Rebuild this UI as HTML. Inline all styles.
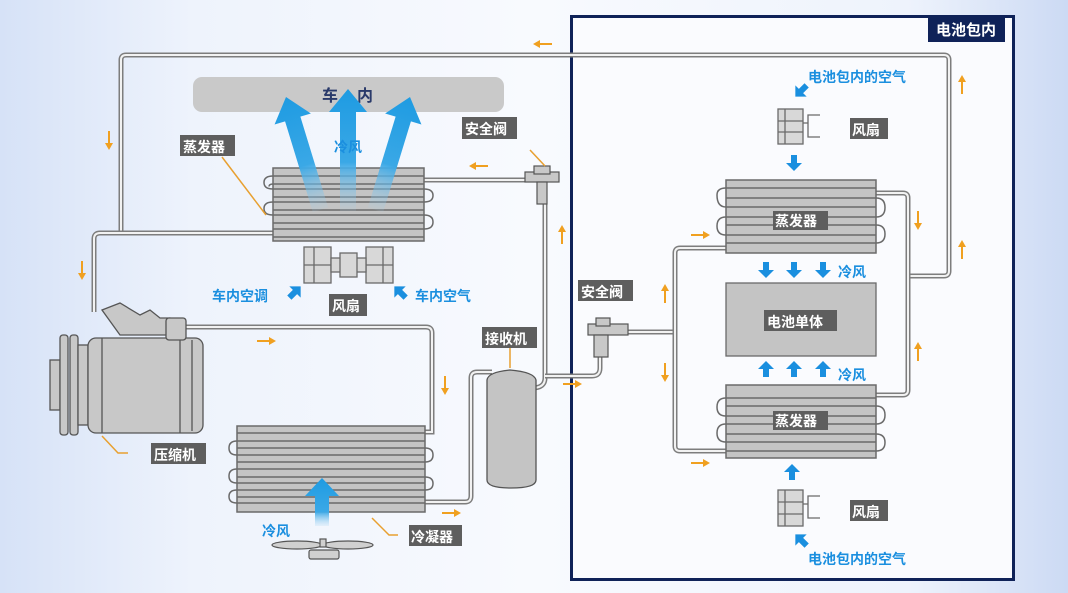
<!DOCTYPE html>
<html><head><meta charset="utf-8"><style>
html,body{margin:0;padding:0;}
body{width:1068px;height:593px;overflow:hidden;background:linear-gradient(90deg,#d6e2f7 0%,#eef3fc 18%,#f8fafe 50%,#eef3fc 85%,#ccdaf4 100%);}
svg{display:block;font-family:"Liberation Sans","Noto Sans CJK SC",sans-serif;}
.po{fill:none;stroke:#7d7d7d;stroke-width:5;}
.pi{fill:none;stroke:#f2f2f2;stroke-width:2;}
.lb{fill:#5e5e5e;}
.lt{fill:#fff;font-size:14px;font-weight:bold;}
.bt{fill:#1b8fdf;font-size:14px;font-weight:bold;}
.ld{fill:none;stroke:#e8a030;stroke-width:1.5;}
.plate{fill:#c4c4c4;stroke:#6a6a6a;stroke-width:1.5;}
.tube{fill:none;stroke:#6a6a6a;stroke-width:1.5;}
</style></head><body>
<svg width="1068" height="593" viewBox="0 0 1068 593">
<defs>
<linearGradient id="bg" x1="0" y1="0" x2="0" y2="1">
<stop offset="0" stop-color="#1e9be2"/><stop offset="0.6" stop-color="#3aa8e6"/><stop offset="1" stop-color="#9fd2f2" stop-opacity="0.1"/>
</linearGradient>
<linearGradient id="bg2" x1="0" y1="0" x2="0" y2="1">
<stop offset="0" stop-color="#1e9be2"/><stop offset="0.7" stop-color="#3aa8e6"/><stop offset="1" stop-color="#bfe0f6" stop-opacity="0.3"/>
</linearGradient>
<g id="oa"><line x1="-9" y1="0" x2="4" y2="0" stroke="#f0a020" stroke-width="2"/><polygon points="3,-4 10,0 3,4" fill="#f0a020"/></g>
<polygon id="sb" points="0,8 8,0 3,0 3,-8 -3,-8 -3,0 -8,0" fill="#1a8fdf"/>
</defs>

<rect x="571.5" y="16.5" width="442" height="563" fill="#fafbfe" stroke="#0f2258" stroke-width="3"/>
<rect x="928" y="17" width="77" height="25" fill="#0f2258"/>
<text x="966" y="35" text-anchor="middle" class="lt" style="font-size:15px">电池包内</text>

<rect x="193" y="77" width="311" height="35" rx="9" fill="#c9c9c9"/>
<text x="322" y="101" class="lt" style="fill:#2a3a6a;font-size:16px">车</text>
<text x="357" y="101" class="lt" style="fill:#2a3a6a;font-size:16px">内</text>

<g>
<path class="po" d="M121 233 V60 Q121 55 126 55 H944 Q949 55 949 60 V271 Q949 276 944 276 H908"/>
<path class="pi" d="M121 233 V60 Q121 55 126 55 H944 Q949 55 949 60 V271 Q949 276 944 276 H908"/>
<path class="po" d="M273 233 H100 Q94 233 94 239 V312"/>
<path class="pi" d="M273 233 H100 Q94 233 94 239 V312"/>
<path class="po" d="M424 180 H540"/><path class="pi" d="M424 180 H540"/>
<path class="po" d="M532 388 Q545 388 545 378 V200"/><path class="pi" d="M532 388 Q545 388 545 378 V200"/>
<path class="po" d="M545 376 H592 Q600 376 600 368 V352"/><path class="pi" d="M545 376 H592 Q600 376 600 368 V352"/>
<path class="po" d="M185 327 H426 Q432 327 432 333 V432 H425"/><path class="pi" d="M185 327 H426 Q432 327 432 333 V432 H425"/>
<path class="po" d="M425 502 H465 Q471 502 471 496 V378 Q471 372 477 372 H492"/><path class="pi" d="M425 502 H465 Q471 502 471 496 V378 Q471 372 477 372 H492"/>
<path class="po" d="M624 332 H675"/><path class="pi" d="M624 332 H675"/>
<path class="po" d="M726 248 H680 Q675 248 675 253 V446 Q675 451 680 451 H726"/><path class="pi" d="M726 248 H680 Q675 248 675 253 V446 Q675 451 680 451 H726"/>
<path class="po" d="M876 193 H903 Q908 193 908 198 V390 Q908 395 903 395 H876"/><path class="pi" d="M876 193 H903 Q908 193 908 198 V390 Q908 395 903 395 H876"/>
</g>

<rect class="plate" x="273" y="168" width="151" height="73"/>
<g class="tube">
<path d="M273 176 H424 M273 184 H424 M273 189 H424 M273 197 H424 M273 202 H424 M273 210 H424 M273 215 H424 M273 223 H424 M273 229 H424 M273 237 H424"/>
<path d="M273 176 Q264 176 264 182.5 Q264 189 273 189 M273 184 Q269 184 269 186.5"/>
<path d="M273 202 Q264 202 264 208.5 Q264 215 273 215"/>
<path d="M424 189 Q433 189 433 195.5 Q433 202 424 202"/>
<path d="M424 215 Q433 215 433 222 Q433 229 424 229"/>
</g>
<polygon transform="translate(348,89)" points="0,0 19,23 8,23 8,122 -8,122 -8,23 -19,23" fill="url(#bg)"/>
<polygon transform="translate(286,97) rotate(-17)" points="0,0 19,23 8,23 8,118 -8,118 -8,23 -19,23" fill="url(#bg)"/>
<polygon transform="translate(410,97) rotate(17)" points="0,0 19,23 8,23 8,118 -8,118 -8,23 -19,23" fill="url(#bg)"/>
<text x="334" y="152" class="bt">冷风</text>

<g fill="#d8d8d8" stroke="#6a6a6a" stroke-width="1.3">
<rect x="304" y="247" width="27" height="36"/><line x1="304" y1="265" x2="331" y2="265"/><line x1="314" y1="247" x2="314" y2="283"/>
<rect x="366" y="247" width="27" height="36"/><line x1="366" y1="265" x2="393" y2="265"/><line x1="383" y1="247" x2="383" y2="283"/>
<rect x="331" y="258" width="35" height="14"/><rect x="340" y="253" width="17" height="24"/>
</g>
<text x="212" y="301" class="bt">车内空调</text>
<text x="415" y="301" class="bt">车内空气</text>
<polygon transform="translate(295,292) rotate(45)" points="0,-8 8,0 3,0 3,8 -3,8 -3,0 -8,0" fill="#1a8fdf"/>
<polygon transform="translate(400,292) rotate(-45)" points="0,-8 8,0 3,0 3,8 -3,8 -3,0 -8,0" fill="#1a8fdf"/>
<rect class="lb" x="329" y="294" width="38" height="22"/><text x="332" y="311" class="lt">风扇</text>

<g fill="#c8c8c8" stroke="#555" stroke-width="1.2">
<rect x="525" y="172" width="34" height="10"/><rect x="534" y="166" width="16" height="8"/>
<rect x="537" y="182" width="10" height="22"/>
</g>
<rect class="lb" x="462" y="117" width="55" height="22"/><text x="465" y="134" class="lt">安全阀</text>
<path class="ld" d="M530 150 L545 166"/>
<rect class="lb" x="180" y="135" width="55" height="21"/><text x="183" y="152" class="lt">蒸发器</text>
<path class="ld" d="M222 157 L266 215"/>

<g fill="#c8c8c8" stroke="#555" stroke-width="1.3">
<rect x="50" y="360" width="10" height="50"/>
<rect x="60" y="335" width="8" height="100" rx="3"/><rect x="70" y="335" width="8" height="100" rx="3"/>
<rect x="78" y="345" width="10" height="80"/>
<rect x="88" y="338" width="115" height="95" rx="8"/>
<line x1="102" y1="338" x2="102" y2="433"/><line x1="180" y1="338" x2="180" y2="433"/><line x1="192" y1="340" x2="192" y2="431"/>
<path d="M102 310 L120 303 L140 315 L150 310 L160 318 L170 318 L175 335 L120 335 Z"/>
<rect x="166" y="318" width="20" height="22" rx="3"/>
</g>
<rect class="lb" x="151" y="443" width="55" height="21"/><text x="154" y="460" class="lt">压缩机</text>
<path class="ld" d="M102 436 L118 453 H128"/>

<rect class="plate" x="237" y="426" width="188" height="86"/>
<g class="tube">
<path d="M237 433 H425 M237 441 H425 M237 448 H425 M237 455 H425 M237 462 H425 M237 469 H425 M237 477 H425 M237 483 H425 M237 490 H425 M237 497 H425 M237 503 H425"/>
<path d="M237 441 Q229 441 229 448 Q229 455 237 455"/>
<path d="M237 469 Q229 469 229 476 Q229 483 237 483"/>
<path d="M237 490 Q229 490 229 496.5 Q229 503 237 503"/>
<path d="M425 448 Q433 448 433 455 Q433 462 425 462"/>
<path d="M425 477 Q433 477 433 483.5 Q433 490 425 490"/>
</g>
<polygon transform="translate(322,478)" points="0,0 17,18 7,18 7,48 -7,48 -7,18 -17,18" fill="url(#bg2)"/>
<text x="262" y="536" class="bt">冷风</text>
<g fill="#d0d0d0" stroke="#555" stroke-width="1.2">
<ellipse cx="297" cy="545" rx="25" ry="4"/><ellipse cx="348" cy="545" rx="25" ry="4"/>
<rect x="320" y="539" width="6" height="8"/><rect x="309" y="550" width="30" height="9" rx="2"/>
</g>
<rect class="lb" x="409" y="525" width="53" height="21"/><text x="411" y="542" class="lt">冷凝器</text>
<path class="ld" d="M372 518 L389 535 H398"/>

<path d="M487 380 Q488 372 510 370 Q534 372 536 380 V480 Q536 488 511 488 Q487 488 487 480 Z" fill="#c4c4c4" stroke="#555" stroke-width="1.3"/>
<rect class="lb" x="482" y="327" width="55" height="21"/><text x="485" y="344" class="lt">接收机</text>
<path class="ld" d="M510 348 V368"/>

<g fill="#c8c8c8" stroke="#555" stroke-width="1.2">
<rect x="588" y="324" width="40" height="11"/><rect x="596" y="318" width="14" height="8"/>
<rect x="594" y="335" width="14" height="22"/>
</g>
<rect class="lb" x="578" y="280" width="55" height="21"/><text x="581" y="297" class="lt">安全阀</text>

<rect class="plate" x="726" y="180" width="150" height="73"/>
<g class="tube">
<path d="M726 188 H876 M726 198 H876 M726 207 H876 M726 217 H876 M726 225 H876 M726 235 H876 M726 243 H876"/>
<path d="M726 188 Q717 188 717 195 Q717 207 726 207"/>
<path d="M726 217 Q717 217 717 226 Q717 235 726 235"/>
<path d="M876 198 Q885 198 885 207.5 Q885 217 876 217"/>
<path d="M876 225 Q885 225 885 234 Q885 243 876 243"/>
</g>
<rect class="lb" x="773" y="211" width="55" height="19"/><text x="775" y="226" class="lt">蒸发器</text>

<rect x="726" y="283" width="150" height="73" fill="#c4c4c4" stroke="#6a6a6a" stroke-width="1.3"/>
<rect class="lb" x="764" y="310" width="73" height="21"/><text x="767" y="327" class="lt">电池单体</text>

<rect class="plate" x="726" y="385" width="150" height="73"/>
<g class="tube">
<path d="M726 398 H876 M726 406 H876 M726 416 H876 M726 424 H876 M726 434 H876 M726 442 H876 M726 451 H876"/>
<path d="M726 398 Q717 398 717 407 Q717 416 726 416"/>
<path d="M726 424 Q717 424 717 433 Q717 442 726 442"/>
<path d="M876 406 Q885 406 885 415 Q885 424 876 424"/>
<path d="M876 434 Q885 434 885 442.5 Q885 451 876 451"/>
</g>
<rect class="lb" x="773" y="411" width="55" height="19"/><text x="775" y="426" class="lt">蒸发器</text>

<use href="#sb" transform="translate(766,270)"/><use href="#sb" transform="translate(794,270)"/><use href="#sb" transform="translate(823,270)"/>
<use href="#sb" transform="translate(766,369) rotate(180)"/><use href="#sb" transform="translate(794,369) rotate(180)"/><use href="#sb" transform="translate(823,369) rotate(180)"/>
<use href="#sb" transform="translate(794,163)"/>
<use href="#sb" transform="translate(792,472) rotate(180)"/>
<use href="#sb" transform="translate(801,91) rotate(45)"/>
<use href="#sb" transform="translate(801,540) rotate(135)"/>
<text x="838" y="277" class="bt">冷风</text>
<text x="838" y="380" class="bt">冷风</text>

<g fill="#d8d8d8" stroke="#6a6a6a" stroke-width="1.3">
<rect x="778" y="109" width="25" height="35"/><line x1="778" y1="121" x2="803" y2="121"/><line x1="778" y1="132" x2="803" y2="132"/><line x1="785" y1="109" x2="785" y2="144"/>
<path d="M803 123 H808 V115 H820 M808 123 V137 H820" fill="none"/>
<rect x="778" y="490" width="25" height="36"/><line x1="778" y1="502" x2="803" y2="502"/><line x1="778" y1="514" x2="803" y2="514"/><line x1="785" y1="490" x2="785" y2="526"/>
<path d="M803 504 H808 V496 H820 M808 504 V518 H820" fill="none"/>
</g>
<rect class="lb" x="850" y="118" width="38" height="21"/><text x="852" y="135" class="lt">风扇</text>
<rect class="lb" x="850" y="500" width="38" height="21"/><text x="852" y="517" class="lt">风扇</text>
<text x="808" y="82" class="bt">电池包内的空气</text>
<text x="808" y="564" class="bt">电池包内的空气</text>

<use href="#oa" transform="translate(543,44) rotate(180)"/>
<use href="#oa" transform="translate(479,166) rotate(180)"/>
<use href="#oa" transform="translate(109,140) rotate(90)"/>
<use href="#oa" transform="translate(82,270) rotate(90)"/>
<use href="#oa" transform="translate(266,341)"/>
<use href="#oa" transform="translate(445,385) rotate(90)"/>
<use href="#oa" transform="translate(451,513)"/>
<use href="#oa" transform="translate(572,384)"/>
<use href="#oa" transform="translate(562,235) rotate(-90)"/>
<use href="#oa" transform="translate(665,294) rotate(-90)"/>
<use href="#oa" transform="translate(665,372) rotate(90)"/>
<use href="#oa" transform="translate(700,235)"/>
<use href="#oa" transform="translate(700,463)"/>
<use href="#oa" transform="translate(918,220) rotate(90)"/>
<use href="#oa" transform="translate(918,352) rotate(-90)"/>
<use href="#oa" transform="translate(962,85) rotate(-90)"/>
<use href="#oa" transform="translate(962,250) rotate(-90)"/>
</svg>
</body></html>
